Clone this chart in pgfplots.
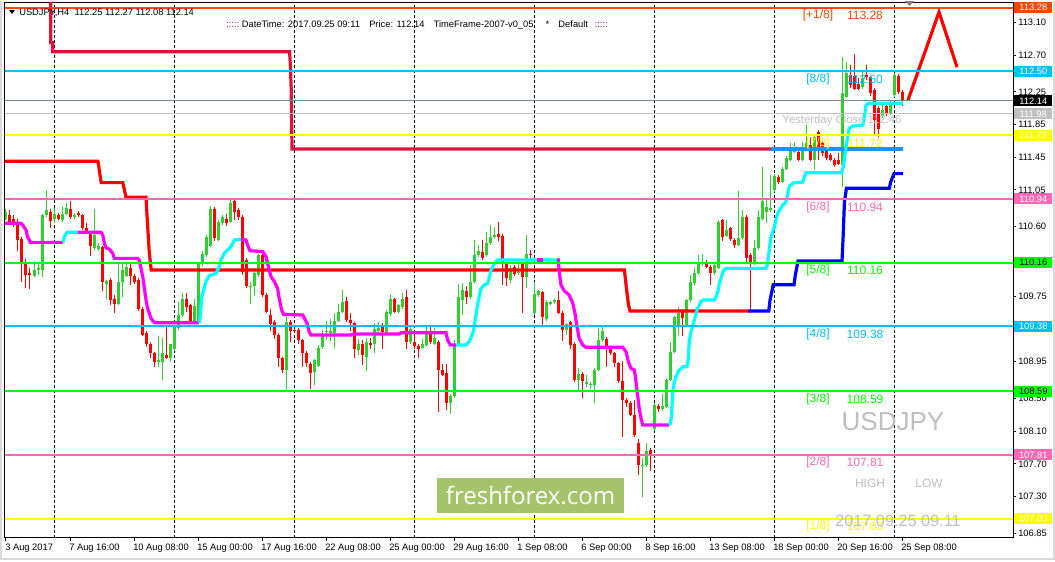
\documentclass[border=0pt]{standalone}
\usepackage{fontspec}
\setmainfont{Liberation Sans}
\newfontfamily\osans{Open Sans}
\usepackage{pgfplots}
\usepackage{pgfplotstable}
\pgfplotsset{compat=1.18}

\definecolor{Bull}{RGB}{50,205,50}
\definecolor{Bear}{RGB}{255,0,0}
\definecolor{Crim}{RGB}{220,20,60}
\definecolor{DodgerB}{RGB}{30,144,255}
\definecolor{OrRed}{RGB}{255,69,0}
\definecolor{SkyB}{RGB}{0,191,255}
\definecolor{HPink}{RGB}{255,105,180}
\definecolor{LimeC}{RGB}{0,255,0}
\definecolor{YelC}{RGB}{255,255,0}
\definecolor{SlateG}{RGB}{119,136,153}
\definecolor{SilverC}{RGB}{192,192,192}
\definecolor{TxtGray}{RGB}{190,190,190}
\definecolor{FFgreen}{RGB}{164,195,106}
\definecolor{Magc}{RGB}{255,0,255}
\definecolor{Aqua}{RGB}{0,255,255}
\definecolor{Purp}{RGB}{128,0,128}

% H4 candles, bar 0 = 3 Aug 2017 00:00
\pgfplotstableread{
i o h l c
0 110.70 110.82 110.68 110.78
1 110.74 110.81 110.62 110.64
2 110.70 110.74 110.60 110.63
3 110.62 110.70 110.30 110.44
4 110.45 110.48 109.93 110.17
5 110.17 110.20 109.85 110.01
6 110.04 110.09 109.84 110.01
7 110.00 110.18 109.98 110.07
8 110.07 110.17 110.01 110.10
9 110.07 110.76 109.99 110.74
10 110.74 111.05 110.72 110.80
11 110.78 110.82 110.58 110.67
12 110.70 110.83 110.64 110.75
13 110.74 110.77 110.68 110.70
14 110.68 110.85 110.66 110.76
15 110.76 110.89 110.74 110.83
16 110.82 110.92 110.70 110.72
17 110.72 110.77 110.70 110.74
18 110.77 110.79 110.72 110.74
19 110.74 110.76 110.56 110.58
20 110.59 110.64 110.52 110.54
21 110.54 110.55 110.24 110.36
22 110.34 110.82 110.31 110.50
23 110.33 110.40 110.30 110.36
24 110.35 110.37 109.81 109.92
25 109.90 109.95 109.72 109.94
26 109.95 109.97 109.64 109.70
27 109.72 109.77 109.55 109.66
28 109.66 110.16 109.64 109.93
29 109.93 110.15 109.74 110.07
30 110.00 110.14 109.98 110.11
31 110.10 110.14 109.89 110.00
32 110.00 110.02 109.90 109.93
33 109.95 109.97 109.57 109.60
34 109.60 109.62 109.26 109.28
35 109.30 109.32 109.13 109.17
36 109.17 109.19 108.99 109.05
37 109.05 109.07 108.89 108.95
38 108.94 109.26 108.89 108.97
39 108.95 109.24 108.73 109.05
40 109.03 109.40 108.98 109.00
41 109.00 109.17 108.95 109.16
42 109.11 109.40 109.08 109.38
43 109.36 109.68 109.34 109.52
44 109.52 109.79 109.50 109.72
45 109.72 109.79 109.56 109.62
46 109.64 109.66 109.42 109.44
47 109.43 109.72 109.41 109.63
48 109.44 110.16 109.42 110.15
49 110.15 110.30 110.12 110.27
50 110.25 110.50 110.23 110.48
51 110.37 110.85 110.35 110.82
52 110.82 110.84 110.42 110.46
53 110.44 110.68 110.42 110.66
54 110.64 110.74 110.62 110.72
55 110.70 110.76 110.61 110.65
56 110.66 110.93 110.64 110.89
57 110.91 110.93 110.68 110.78
58 110.81 110.83 110.68 110.72
59 110.72 110.74 110.01 110.05
60 110.19 110.22 109.85 109.87
61 109.86 109.93 109.66 109.87
62 109.87 110.09 109.76 110.03
63 110.01 110.27 109.99 110.25
64 110.25 110.27 109.74 109.77
65 109.77 109.79 109.54 109.56
66 109.52 109.60 109.32 109.41
67 109.44 109.46 109.23 109.28
68 109.28 109.30 108.89 108.99
69 108.99 109.01 108.81 108.85
70 108.85 109.50 108.60 109.44
71 109.44 109.46 109.19 109.32
72 109.34 109.36 109.30 109.32
73 109.34 109.36 109.16 109.21
74 109.21 109.23 108.89 109.05
75 109.06 109.08 108.89 108.93
76 108.92 108.94 108.62 108.81
77 108.82 108.98 108.66 108.97
78 108.90 109.15 108.88 109.12
79 109.13 109.34 109.11 109.28
80 109.31 109.45 109.21 109.32
81 109.30 109.47 109.20 109.32
82 109.30 109.54 109.12 109.45
83 109.45 109.65 109.43 109.56
84 109.56 109.83 109.54 109.68
85 109.69 109.74 109.44 109.46
86 109.46 109.54 109.32 109.42
87 109.42 109.44 109.00 109.11
88 109.09 109.23 109.03 109.16
89 109.17 109.22 108.91 109.03
90 109.01 109.24 108.83 109.19
91 109.18 109.24 109.11 109.15
92 109.16 109.42 109.05 109.35
93 109.32 109.44 109.30 109.36
94 109.40 109.42 109.11 109.31
95 109.30 109.58 109.28 109.56
96 109.53 109.78 109.51 109.72
97 109.72 109.73 109.54 109.56
98 109.56 109.66 109.54 109.64
99 109.62 109.79 109.60 109.72
100 109.74 109.83 109.11 109.19
101 109.19 109.38 109.17 109.35
102 109.19 109.32 109.11 109.14
103 109.14 109.16 109.00 109.11
104 109.12 109.23 109.10 109.17
105 109.15 109.38 109.13 109.32
106 109.32 109.40 109.17 109.19
107 109.17 109.36 109.15 109.24
108 109.19 109.21 108.33 108.85
109 108.85 108.92 108.77 108.79
110 108.81 108.92 108.36 108.45
111 108.45 108.55 108.31 108.53
112 108.53 109.21 108.51 109.15
113 109.15 109.90 109.13 109.74
114 109.71 109.91 109.52 109.83
115 109.81 109.87 109.66 109.74
116 109.74 110.13 109.72 109.93
117 109.93 110.44 109.91 110.25
118 110.25 110.38 110.23 110.30
119 110.29 110.44 110.19 110.22
120 110.25 110.54 110.23 110.40
121 110.40 110.62 110.38 110.48
122 110.47 110.60 110.45 110.50
123 110.51 110.66 110.42 110.47
124 110.49 110.51 109.89 110.15
125 110.14 110.16 109.87 109.97
126 109.95 110.13 109.91 110.09
127 110.11 110.13 110.00 110.02
128 110.03 110.21 110.01 110.05
129 110.15 110.17 109.55 109.98
130 109.99 110.50 109.85 110.27
131 110.27 110.32 110.19 110.25
132 109.54 109.93 109.52 109.78
133 109.76 109.83 109.74 109.81
134 109.80 109.82 109.39 109.49
135 109.47 109.70 109.45 109.68
136 109.66 109.69 109.64 109.68
137 109.68 109.72 109.66 109.70
138 109.70 109.82 109.53 109.55
139 109.55 109.57 109.20 109.34
140 109.34 109.42 109.28 109.41
141 109.43 109.45 109.11 109.15
142 109.17 109.19 108.70 108.73
143 108.73 108.87 108.60 108.80
144 108.80 108.82 108.50 108.71
145 108.68 108.79 108.64 108.70
146 108.66 108.70 108.62 108.68
147 108.66 108.87 108.44 108.85
148 108.85 109.36 108.83 109.21
149 109.21 109.38 109.19 109.32
150 109.23 109.25 108.89 109.11
151 109.12 109.14 109.03 109.05
152 109.05 109.07 108.89 108.93
153 108.93 108.95 108.69 108.71
154 108.71 108.96 108.03 108.48
155 108.48 108.50 108.40 108.45
156 108.45 108.47 108.28 108.30
157 108.30 108.48 108.03 108.05
158 107.95 108.00 107.56 107.69
159 107.68 107.77 107.30 107.69
160 107.69 107.95 107.66 107.86
161 107.87 107.89 107.61 107.82
162 108.13 108.45 108.10 108.42
163 108.41 108.43 108.34 108.37
164 108.37 108.56 108.35 108.41
165 108.40 108.75 108.38 108.73
166 108.73 109.19 108.71 109.07
167 109.07 109.51 109.05 109.49
168 109.40 109.62 109.28 109.54
169 109.57 109.59 109.26 109.48
170 109.40 109.72 109.38 109.70
171 109.70 110.01 109.68 109.93
172 109.91 110.10 109.89 110.03
173 110.03 110.25 110.01 110.17
174 110.14 110.27 110.12 110.17
175 110.15 110.19 110.09 110.11
176 110.11 110.13 109.89 110.03
177 110.03 110.15 110.01 110.13
178 110.10 110.68 110.08 110.66
179 110.68 110.70 110.42 110.48
180 110.49 110.68 110.47 110.56
181 110.58 110.60 110.43 110.45
182 110.44 110.46 110.34 110.38
183 110.38 111.04 110.36 110.46
184 110.46 110.80 110.44 110.72
185 110.72 110.74 110.17 110.22
186 110.26 110.28 109.54 110.17
187 110.15 110.44 110.13 110.34
188 110.34 110.80 110.32 110.72
189 110.70 111.33 110.68 110.91
190 110.78 110.93 110.64 110.84
191 110.80 111.23 110.78 110.83
192 111.05 111.25 111.03 111.22
193 111.21 111.23 111.12 111.15
194 111.15 111.33 111.13 111.31
195 111.31 111.46 111.29 111.44
196 111.42 111.62 111.40 111.54
197 111.52 111.64 111.50 111.54
198 111.52 111.58 111.40 111.42
199 111.42 111.64 111.40 111.58
200 111.58 111.84 111.55 111.62
201 111.60 111.70 111.40 111.42
202 111.42 111.74 111.30 111.70
203 111.76 111.78 111.42 111.54
204 111.63 111.65 111.46 111.50
205 111.54 111.56 111.42 111.44
206 111.48 111.50 111.40 111.42
207 111.42 111.44 111.33 111.36
208 111.42 111.50 111.35 111.37
209 111.36 112.68 111.09 112.23
210 112.19 112.62 112.17 112.48
211 112.46 112.58 112.30 112.33
212 112.44 112.71 112.27 112.29
213 112.35 112.42 112.27 112.29
214 112.31 112.50 112.29 112.42
215 112.46 112.58 112.40 112.43
216 112.43 112.45 112.20 112.23
217 112.27 112.30 111.74 111.90
218 112.05 112.08 111.70 111.80
219 111.96 112.10 111.93 112.03
220 112.08 112.12 111.95 111.99
221 111.99 112.14 111.97 112.12
222 112.21 112.48 112.19 112.46
223 112.45 112.47 112.22 112.25
224 112.25 112.27 112.08 112.14
}\candles
\pgfplotstablecreatecol[create col/expr={\thisrow{c}-\thisrow{o}}]{dir}{\candles}
\pgfplotstablecreatecol[create col/expr={max(\thisrow{o},\thisrow{c})}]{top}{\candles}
\pgfplotstablecreatecol[create col/expr={max(abs(\thisrow{c}-\thisrow{o}),0.012)}]{body}{\candles}
\pgfplotstablecreatecol[create col/expr={\thisrow{h}-\thisrow{l}}]{rng}{\candles}

\pgfplotsset{
  wick/.style={only marks, mark=text, text mark={},
    error bars/.cd, y dir=minus, y explicit, error mark=none,
    error bar style={draw=#1, line width=0.75pt}},
  body/.style={only marks, mark=text, text mark={},
    error bars/.cd, y dir=minus, y explicit, error mark=none,
    error bar style={draw=#1, line width=2.25pt}},
}

\begin{document}
\begin{tikzpicture}
\useasboundingbox (0,0) rectangle (791.25pt,-420.75pt);
\fill[white] (0,0) rectangle (791.25pt,-420.75pt);
\begin{axis}[
  at={(3.75pt,-1.5pt)}, anchor=north west,
  scale only axis, width=756pt, height=401.8pt,
  xmin=-0.25, xmax=251.75, ymin=106.796, ymax=113.349,
  clip mode=individual,
  axis line style={black, line width=0.75pt},
  tick style={black, line width=0.75pt},
  tick align=outside, major tick length=2.25pt,
  xtick pos=left, ytick pos=right, yticklabel pos=right,
  xtick={0,16,...,224},
  xticklabels={3 Aug 2017,7 Aug 16:00,10 Aug 08:00,15 Aug 00:00,17 Aug 16:00,22 Aug 08:00,25 Aug 00:00,29 Aug 16:00,1 Sep 08:00,6 Sep 00:00,8 Sep 16:00,13 Sep 08:00,18 Sep 00:00,20 Sep 16:00,25 Sep 08:00},
  extra x ticks={12,42,72,102,132,162,192,222},
  extra x tick labels={},
  extra x tick style={grid=major, major tick length=0pt},
  major grid style={black, line width=0.75pt, dash pattern=on 2.25pt off 1.5pt},
  ytick={113.10,112.70,112.25,111.85,111.45,111.05,110.60,109.75,108.95,108.50,108.10,107.70,107.30,106.85},
  yticklabel={\pgfmathprintnumber[fixed,fixed zerofill,precision=2,assume math mode=true]{\tick}},
  ticklabel style={font=\fontsize{7}{8}\selectfont},
  xticklabel style={anchor=north west, inner sep=0pt, xshift=-0.75pt, yshift=-2.5pt},
  yticklabel style={anchor=west, inner sep=0pt, xshift=1.5pt},
]
% candle wicks
\addplot[Bull, restrict expr to domain={\thisrow{dir}}{0:100}, wick=Bull]
  table[x=i, y=h, y error minus=rng] {\candles};
\addplot[Bear, restrict expr to domain={\thisrow{dir}}{-100:-0.0001}, wick=Bear]
  table[x=i, y=h, y error minus=rng] {\candles};
% candle bodies
\addplot[Bull, restrict expr to domain={\thisrow{dir}}{0:100}, body=Bull]
  table[x=i, y=top, y error minus=body] {\candles};
\addplot[Bear, restrict expr to domain={\thisrow{dir}}{-100:-0.0001}, body=Bear]
  table[x=i, y=top, y error minus=body] {\candles};

% step indicators
\addplot[Crim, line width=2.4pt] coordinates {(11.2,113.6) (11.2,112.85) (11.7,112.85) (11.7,112.74) (70.9,112.74) (71.1,112.56) (71.3,112.29) (71.5,111.55) (191.3,111.55)};
\addplot[DodgerB, line width=2.4pt] coordinates {(191.3,111.55) (224.2,111.55)};
\addplot[Bear, line width=2.4pt] coordinates {(-1,111.40) (23,111.40) (23.3,111.30) (23.8,111.14) (29.2,111.14) (29.6,111.05) (30,110.96) (35,110.96) (35.3,110.70) (35.8,110.30) (36.3,110.07) (154.6,110.07) (155.1,109.85) (155.6,109.65) (156,109.57) (185.5,109.57)};
\addplot[blue, line width=2.4pt] coordinates {(185.5,109.57) (190.7,109.57) (191.0,109.70) (191.8,109.89) (197,109.89) (197.3,110.00) (198,110.18) (209,110.18) (209.3,110.50) (209.6,110.90) (210.1,111.07) (220.8,111.07) (221.2,111.15) (222,111.25) (224.2,111.25)};

% trailing line, magenta down / aqua up
\addplot[Magc, line width=2.4pt] coordinates {(-1,110.642) (3.75,110.642) (4.2,110.621) (5,110.56) (5.4,110.478) (6.1,110.409) (14.2,110.409)};
\addplot[Aqua, line width=2.4pt] coordinates {(14.2,110.409) (14.6,110.478) (15.25,110.532) (17.9,110.532)};
\addplot[Magc, line width=2.4pt] coordinates {(17.9,110.532) (23.75,110.532) (24.2,110.499) (24.6,110.397) (25,110.344) (25.8,110.327) (26.7,110.275) (27.1,110.213) (32.9,110.213) (33.3,110.193) (33.75,110.091) (34.2,109.989) (34.6,109.847) (35,109.704) (35.4,109.602) (36.25,109.48) (37.1,109.426) (48.3,109.426)};
\addplot[Aqua, line width=2.4pt] coordinates {(48.3,109.426) (48.6,109.52) (48.9,109.724) (49.4,109.826) (50,109.928) (50.8,110.001) (52.5,110.03) (53.3,110.111) (53.75,110.193) (54.6,110.275) (55.4,110.315) (56.25,110.356) (57.1,110.438) (58.75,110.446)};
\addplot[Magc, line width=2.4pt] coordinates {(58.75,110.446) (60,110.438) (60.4,110.376) (61,110.307) (64.2,110.295) (65,110.233) (65.6,110.111) (66.25,109.989) (67.1,109.928) (67.9,109.847) (68.3,109.724) (68.9,109.582) (69.4,109.529) (74.2,109.52) (74.6,109.48) (75.25,109.419) (75.8,109.316) (76.25,109.276) (86.25,109.276) (87.1,109.288) (98.3,109.288) (98.75,109.304) (110,109.304) (110.4,109.215) (111.1,109.153) (112.5,109.153)};
\addplot[Aqua, line width=2.4pt] coordinates {(112.5,109.153) (115,109.153) (115.8,109.194) (116.7,109.296) (117.1,109.398) (117.5,109.52) (117.9,109.642) (118.3,109.744) (118.75,109.847) (119.6,109.887) (120.4,109.908) (120.8,109.969) (121.25,110.071) (122.1,110.153) (122.9,110.193) (137.75,110.193)};
\addplot[Magc, line width=2.4pt] coordinates {(132.75,110.193) (134.2,110.193)};
\addplot[Magc, line width=2.4pt] coordinates {(137.75,110.193) (138.1,110.193) (138.3,110.05) (138.75,109.887) (139.6,109.814) (140.8,109.765) (141.7,109.663) (142.25,109.541) (142.75,109.377) (143.3,109.235) (144.2,109.153) (145,109.125) (154.2,109.125) (155,109.071) (155.6,108.949) (156.25,108.868) (157.1,108.847) (157.5,108.704) (157.9,108.542) (158.3,108.379) (158.75,108.257) (159.2,108.175) (165.8,108.175)};
\addplot[Aqua, line width=2.4pt] coordinates {(165.8,108.175) (166.1,108.196) (166.4,108.297) (166.7,108.582) (167.1,108.704) (167.5,108.766) (168.3,108.847) (169.2,108.888) (170.25,108.888) (170.6,108.991) (170.8,109.194) (171.25,109.316) (172.1,109.459) (172.9,109.602) (173.75,109.683) (174.2,109.704) (177.1,109.704) (177.5,109.744) (178.1,109.826) (178.3,109.908) (178.75,109.969) (179.2,110.05) (180,110.091) (190,110.091) (190.4,110.153) (190.8,110.315) (191.25,110.478) (192.1,110.6) (192.9,110.764) (194.2,110.866) (195,110.906) (195.4,110.988) (195.8,111.09) (196.7,111.131) (197.1,111.138) (199.2,111.147) (199.6,111.212) (200,111.261) (208.9,111.261) (209.4,111.355) (210,111.579) (210.8,111.804) (211.7,111.832) (214.2,111.844) (214.6,111.946) (215,112.089) (215.8,112.11) (224.2,112.11)};

% projection
\addplot[Bear, line width=2.4pt] coordinates {(225.5,112.15) (233.25,113.226) (237.75,112.553)};

% Murrey levels and price lines
\addplot[OrRed, line width=1.5pt] coordinates {(-1,113.28) (253,113.28)};
\addplot[SkyB, line width=1.5pt] coordinates {(-1,112.50) (253,112.50)};
\addplot[SlateG, line width=0.75pt] coordinates {(-1,112.14) (253,112.14)};
\addplot[SilverC, line width=0.75pt] coordinates {(-1,111.98) (253,111.98)};
\addplot[YelC, line width=1.5pt] coordinates {(-1,111.72) (253,111.72)};
\addplot[HPink, line width=1.5pt] coordinates {(-1,110.94) (253,110.94)};
\addplot[LimeC, line width=1.5pt] coordinates {(-1,110.16) (253,110.16)};
\addplot[SkyB, line width=1.5pt] coordinates {(-1,109.38) (253,109.38)};
\addplot[LimeC, line width=1.5pt] coordinates {(-1,108.59) (253,108.59)};
\addplot[HPink, line width=1.5pt] coordinates {(-1,107.81) (253,107.81)};
\addplot[YelC, line width=1.5pt] coordinates {(-1,107.03) (253,107.03)};
\end{axis}

\begin{scope}[x=0.75pt, y=-0.75pt]
% level labels
\begin{scope}[every node/.style={font=\fontsize{9}{10}\selectfont, inner sep=0pt}]
\node[text=OrRed] at (818,15.6) {[+1/8]};   \node[text=OrRed] at (865,15.6) {113.28};
\node[text=SkyB] at (818,79.4) {[8/8]};     \node[text=SkyB] at (865,79.4) {112.50};
\node[text=YelC] at (818,143.2) {[7/8]};    \node[text=YelC] at (865,143.2) {111.72};
\node[text=HPink] at (818,206.9) {[6/8]};   \node[text=HPink] at (865,206.9) {110.94};
\node[text=LimeC] at (818,270.7) {[5/8]};   \node[text=LimeC] at (865,270.7) {110.16};
\node[text=SkyB] at (818,334.5) {[4/8]};    \node[text=SkyB] at (865,334.5) {109.38};
\node[text=LimeC] at (818,399.1) {[3/8]};   \node[text=LimeC] at (865,399.1) {108.59};
\node[text=HPink] at (818,462.8) {[2/8]};   \node[text=HPink] at (865,462.8) {107.81};
\node[text=YelC] at (818,526.6) {[1/8]};    \node[text=YelC] at (865,526.6) {107.03};
\node[text=SilverC, font=\fontsize{8.5}{10}\selectfont] at (842,121) {Yesterday Close 112.46};
\node[text=TxtGray, font=\fontsize{9}{10}\selectfont] at (870,483) {HIGH};
\node[text=TxtGray, font=\fontsize{9}{10}\selectfont] at (929,483) {LOW};
\node[text=TxtGray, font=\fontsize{19.5}{22}\selectfont] at (893,422) {USDJPY};
\node[text=TxtGray, font=\fontsize{12.2}{14}\selectfont] at (898,520.7) {2017.09.25 09.11};
\end{scope}
% watermark
\node[fill=FFgreen, minimum width=140.25pt, minimum height=26pt, inner sep=0pt, text=white, font=\osans\fontsize{18}{20}\selectfont] at (530.5,495.3) {freshforex.com};
% header
\fill[black] (9,10) -- (15,10) -- (12,14) -- cycle;
\node[anchor=west, inner sep=0pt, font=\fontsize{7}{8}\selectfont] at (19,12.7) {USDJPY,H4\hspace{4pt}112.25 112.27 112.08 112.14};
\node[anchor=west, inner sep=0pt, font=\fontsize{7}{8}\selectfont] at (226,25.3) {\textcolor{Purp}{:::::}\ DateTime: 2017.09.25 09:11\hspace{7pt}Price: 112.14\hspace{7pt}TimeFrame-2007-v0\_05\hspace{9pt}*\hspace{7pt}Default\hspace{5pt}\textcolor{Purp}{:::::}};
\fill[gray] (905,1) -- (914,1) -- (909.5,6) -- cycle;
% price boxes on the right scale
\begin{scope}[every node/.style={anchor=west, minimum width=28.5pt, minimum height=8.25pt, inner sep=0pt, font=\fontsize{7}{8}\selectfont}]
\node[fill=OrRed, text=white] at (1014,7.6) {113.28};
\node[fill=SkyB, text=white] at (1014,71.4) {112.50};
\node[fill=black, text=white] at (1014,100.8) {112.14};
\node[fill=SilverC, text=white] at (1014,113.9) {111.98};
\node[fill=YelC, text=white] at (1014,135.2) {111.72};
\node[fill=HPink, text=white] at (1014,198.9) {110.94};
\node[fill=LimeC, text=black] at (1014,262.7) {110.16};
\node[fill=SkyB, text=white] at (1014,326.5) {109.38};
\node[fill=LimeC, text=black] at (1014,391.1) {108.59};
\node[fill=HPink, text=white] at (1014,454.8) {107.81};
\node[fill=YelC, text=white] at (1014,518.6) {107.03};
\end{scope}
\draw[color=gray!30, line width=1.5pt] (1,1) -- (1,559) -- (1054,559) -- (1054,1);
\end{scope}
\end{tikzpicture}
\end{document}
